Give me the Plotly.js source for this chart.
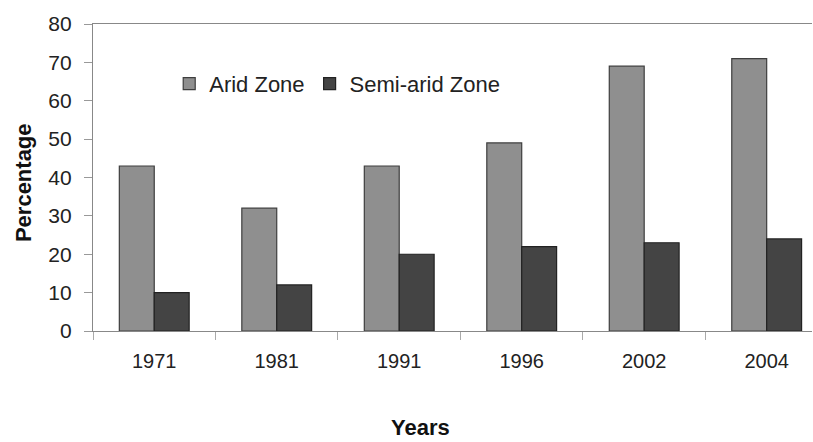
<!DOCTYPE html>
<html>
<head>
<meta charset="utf-8">
<script src="https://cdn.plot.ly/plotly-3.0.1.min.js"></script>
<style>html,body{margin:0;padding:0;background:#fff;}#chart{width:813px;height:442px;}</style>
</head>
<body>
<div id="chart"></div>
<script>
var years = ["1971", "1981", "1991", "1996", "2002", "2004"];
var aridZone = [43, 32, 43, 49, 69, 71];
var semiAridZone = [10, 12, 20, 22, 23, 24];
var yTicks = [0, 10, 20, 30, 40, 50, 60, 70, 80];

var font = "Liberation Sans, Arial, sans-serif";
var traces = [
  {type: "bar", name: "Arid Zone", x: years, y: aridZone,
   marker: {color: "#8f8f8f", line: {color: "#3e3e3e", width: 1.2}}},
  {type: "bar", name: "Semi-arid Zone", x: years, y: semiAridZone,
   marker: {color: "#444444", line: {color: "#222222", width: 1.2}}}
];
var layout = {
  width: 813, height: 442,
  margin: {l: 93, r: 1, t: 24, b: 111},
  paper_bgcolor: "#fff", plot_bgcolor: "#fff",
  font: {family: font, color: "#222", size: 20},
  barmode: "group", bargap: 0.43, bargroupgap: 0,
  showlegend: true,
  legend: {orientation: "h", x: 0.106, y: 0.805, xanchor: "left", yanchor: "middle",
           font: {size: 22, color: "#222"}, itemwidth: 30, bgcolor: "rgba(0,0,0,0)"},
  xaxis: {type: "category", range: [-0.5, 5.37], showline: true, linecolor: "#888", linewidth: 1.2,
          mirror: true, ticks: "outside", ticklen: 8, tickcolor: "#aaa", tickson: "boundaries",
          ticklabelstandoff: 12,
          tickfont: {size: 20, color: "#222"}, showgrid: false, zeroline: false, fixedrange: true},
  yaxis: {range: [0, 80], tickvals: yTicks, ticktext: yTicks.map(String), showline: true,
          linecolor: "#888", linewidth: 1.2, ticks: "outside", ticklen: 8, tickcolor: "#999",
          ticklabelstandoff: 8,
          tickfont: {size: 21, color: "#222"}, showgrid: false, zeroline: false},
  annotations: [
    {text: "<b>Years</b>", xref: "paper", yref: "paper", x: 0.456, y: -0.314,
     xanchor: "center", yanchor: "middle", showarrow: false,
     font: {size: 22, color: "#111"}},
    {text: "<b>Percentage</b>", xref: "paper", yref: "paper", x: -0.0974, y: 0.485,
     xanchor: "center", yanchor: "middle", showarrow: false, textangle: -90,
     font: {size: 22, color: "#111"}}
  ]
};
Plotly.newPlot("chart", traces, layout, {displayModeBar: false, staticPlot: true});
</script>
</body>
</html>
